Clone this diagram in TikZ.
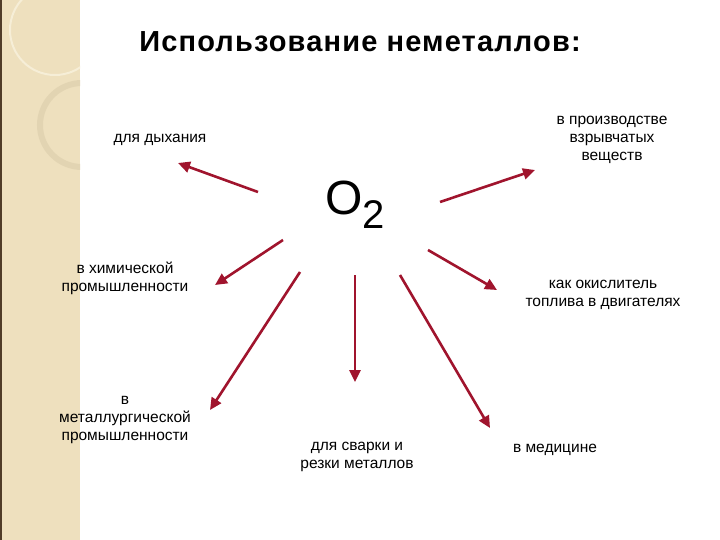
\documentclass[tikz,border=0pt]{standalone}
\usepackage{fontspec}
\setmainfont{Liberation Sans}
\usetikzlibrary{arrows.meta}
\definecolor{arrred}{RGB}{160,20,45}
\definecolor{strip}{RGB}{238,224,190}
\definecolor{ringA}{RGB}{226,212,178}
\definecolor{ringB}{RGB}{246,238,215}
\definecolor{edge}{RGB}{80,60,40}
\begin{document}
\begin{tikzpicture}[x=1pt,y=-1pt,
  arr/.style={draw=arrred,line width=2.6pt,-{Triangle[length=12pt,width=11pt]}},
  lbl/.style={font=\fontsize{15.5}{18}\selectfont,align=center,inner sep=1pt}]
\useasboundingbox (0,0) rectangle (720,540);
\fill[white] (0,0) rectangle (720,540);
\fill[strip] (0,0) rectangle (80,540);
\fill[edge] (0,0) rectangle (1.5,540);
\begin{scope}
\clip (0,0) rectangle (80,540);
\draw[ringB,line width=2pt] (55,30) circle (45);
\draw[ringA,line width=6pt] (82,125) circle (42);
\end{scope}
\node (title) at (360,42) {\addfontfeatures{LetterSpace=4}\fontsize{29}{32}\selectfont\bfseries Использование неметаллов:};
\node (o2) at (355,205) {\fontsize{48}{52}\selectfont O\raisebox{-0.55ex}{\fontsize{40}{44}\selectfont 2}};
\node[lbl] (a) at (160,140) {для дыхания};
\node[lbl] (b) at (612,140) {в производстве\\взрывчатых\\веществ};
\node[lbl] (c) at (125,278) {в химической\\промышленности};
\node[lbl] (d) at (603,295) {как окислитель\\топлива в двигателях};
\node[lbl] (e) at (125,420) {в\\металлургической\\промышленности};
\node[lbl] (f) at (357,457) {для сварки и\\резки металлов};
\node[lbl] (g) at (555,450) {в медицине};
\coordinate (s1) at (258,192); \coordinate (t1) at (178,163);
\coordinate (s2) at (440,202); \coordinate (t2) at (535,170);
\coordinate (s3) at (283,240); \coordinate (t3) at (215,285);
\coordinate (s4) at (428,250); \coordinate (t4) at (497,290);
\coordinate (s5) at (300,272); \coordinate (t5) at (210,410);
\coordinate (s6) at (355,275); \coordinate (t6) at (355,382);
\coordinate (s7) at (400,275); \coordinate (t7) at (490,428);
\foreach \i in {1,...,7} \draw[arr] (s\i) -- (t\i);
\end{tikzpicture}
\end{document}
